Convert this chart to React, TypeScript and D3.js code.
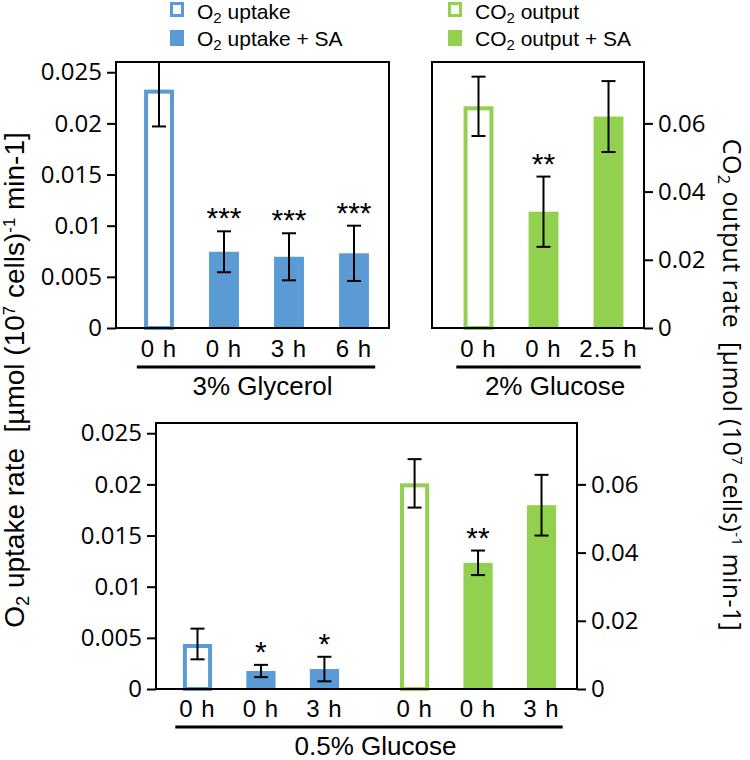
import React, { useRef, useEffect } from "react";
import * as d3 from "d3";

// 3% glycerol, O2 uptake (left axis)
const glycerolTimes = ["0 h", "0 h", "3 h", "6 h"];
const glycerolSA = [false, true, true, true];
const glycerolO2 = [0.0233, 0.00745, 0.00696, 0.0073];
const glycerolO2Err = [0.0036, 0.002, 0.0023, 0.0027];
const glycerolStars = ["", "***", "***", "***"];

// 2% glucose, CO2 output (right axis)
const glucose2Times = ["0 h", "0 h", "2.5 h"];
const glucose2SA = [false, true, true];
const glucose2CO2 = [0.065, 0.0341, 0.062];
const glucose2CO2Err = [0.0087, 0.0103, 0.0104];
const glucose2Stars = ["", "**", ""];

// 0.5% glucose, both
const glucose05Times = ["0 h", "0 h", "3 h"];
const glucose05SA = [false, true, true];
const glucose05O2 = [0.0044, 0.00176, 0.00195];
const glucose05O2Err = [0.0015, 0.0006, 0.0012];
const glucose05O2Stars = ["", "*", "*"];
const glucose05CO2 = [0.0603, 0.037, 0.0539];
const glucose05CO2Err = [0.0071, 0.0036, 0.0089];
const glucose05CO2Stars = ["", "**", ""];

const o2Ticks = [0, 0.005, 0.01, 0.015, 0.02, 0.025];
const co2Ticks = [0, 0.02, 0.04, 0.06];
const o2Max = 0.026;
const co2Max = 0.078;

const BLUE = "#5b9bd5";
const GREEN = "#92d050";
const SANS = "'Liberation Sans', Arial, sans-serif";
const TICKFONT = "'Open Sans', sans-serif";

export default function App() {
  const svgRef = useRef<SVGSVGElement>(null);

  useEffect(() => {
    document.body.style.margin = "0";
    const width = 750;
    const height = 760;
    const svg = d3.select(svgRef.current);
    svg.selectAll("*").remove();
    svg.attr("width", width).attr("height", height).attr("viewBox", [0, 0, width, height]);

    // one set of bars with error bars and stars
    function drawBars(g, cx, bw, y, values, errs, flags, stars, color, clipId) {
      const bars = g.append("g");
      values.forEach((v, i) => {
        const x0 = cx(i) - bw / 2;
        if (flags[i]) {
          bars.append("rect")
            .attr("x", x0).attr("y", y(v))
            .attr("width", bw).attr("height", y(0) - y(v))
            .attr("fill", color);
        } else {
          bars.append("rect")
            .attr("x", x0 + 2).attr("y", y(v) + 2)
            .attr("width", bw - 4).attr("height", y(0) - y(v) - 2)
            .attr("fill", "white").attr("stroke", color).attr("stroke-width", 4);
        }
      });
      const eb = g.append("g").attr("clip-path", `url(#${clipId})`)
        .attr("stroke", "black").attr("stroke-width", 2);
      values.forEach((v, i) => {
        const c = cx(i);
        const lo = y(v - errs[i]);
        const hi = y(v + errs[i]);
        eb.append("line").attr("x1", c).attr("x2", c).attr("y1", lo).attr("y2", hi);
        eb.append("line").attr("x1", c - 7).attr("x2", c + 7).attr("y1", lo).attr("y2", lo);
        eb.append("line").attr("x1", c - 7).attr("x2", c + 7).attr("y1", hi).attr("y2", hi);
      });
      g.append("g")
        .selectAll("text")
        .data(stars)
        .join("text")
        .attr("x", (d, i) => cx(i))
        .attr("y", (d, i) => y(values[i] + errs[i]) - 3)
        .attr("text-anchor", "middle")
        .attr("font-family", SANS)
        .attr("font-size", 30)
        .text(d => d);
    }

    function frame(x0, x1, y0, y1, clipId) {
      svg.append("clipPath").attr("id", clipId)
        .append("rect").attr("x", x0).attr("y", y0).attr("width", x1 - x0).attr("height", y1 - y0);
    }

    function box(x0, x1, y0, y1) {
      svg.append("rect")
        .attr("x", x0).attr("y", y0).attr("width", x1 - x0).attr("height", y1 - y0)
        .attr("fill", "none").attr("stroke", "black").attr("stroke-width", 2);
    }

    function axis(gen, x, ticks) {
      const g = svg.append("g").attr("transform", `translate(${x},0)`)
        .call(gen.tickValues(ticks).tickSize(9).tickPadding(5).tickFormat(d => String(d)));
      g.select(".domain").remove();
      g.selectAll("line").attr("stroke", "black").attr("stroke-width", 2);
      g.selectAll("text").attr("font-family", TICKFONT).attr("font-size", 24).attr("fill", "black");
    }

    function xLabels(cxs, labels, baseline, groupLabel) {
      const g = svg.append("g").attr("font-family", SANS).attr("font-size", 24)
        .attr("text-anchor", "middle").attr("letter-spacing", 1);
      const texts = g.selectAll("text").data(labels).join("text")
        .attr("x", (d, i) => cxs[i]).attr("y", baseline).text(d => d);
      let minX = Infinity, maxX = -Infinity;
      texts.each(function () {
        const b = (this as SVGTextElement).getBBox();
        minX = Math.min(minX, b.x);
        maxX = Math.max(maxX, b.x + b.width);
      });
      svg.append("line")
        .attr("x1", minX - 4).attr("x2", maxX + 3)
        .attr("y1", baseline + 10).attr("y2", baseline + 10)
        .attr("stroke", "black").attr("stroke-width", 3);
      svg.append("text")
        .attr("x", (minX + maxX) / 2 + 6).attr("y", baseline + 38)
        .attr("text-anchor", "middle").attr("font-family", SANS).attr("font-size", 26)
        .text(groupLabel);
    }

    // ---- top-left: 3% glycerol ----
    const yA = d3.scaleLinear().domain([0, o2Max]).range([328, 62]);
    const xA = d3.scaleBand().domain(d3.range(glycerolO2.length)).range([126.5, 386.5])
      .paddingInner(0.54).paddingOuter(0.27);
    const cxA = i => xA(i) + xA.bandwidth() / 2;
    frame(116, 389, 62, 328, "clipA");
    drawBars(svg.append("g"), cxA, xA.bandwidth(), yA, glycerolO2, glycerolO2Err, glycerolSA,
      glycerolStars, BLUE, "clipA");
    box(116, 389, 62, 328);
    axis(d3.axisLeft(yA), 116, o2Ticks);
    xLabels(glycerolTimes.map((d, i) => cxA(i)), glycerolTimes, 357, "3% Glycerol");

    // ---- top-right: 2% glucose ----
    const yB = d3.scaleLinear().domain([0, co2Max]).range([328, 62]);
    const xB = d3.scaleBand().domain(d3.range(glucose2CO2.length)).range([446, 641])
      .paddingInner(0.54).paddingOuter(0.27);
    const cxB = i => xB(i) + xB.bandwidth() / 2;
    frame(432, 644, 62, 328, "clipB");
    drawBars(svg.append("g"), cxB, xB.bandwidth(), yB, glucose2CO2, glucose2CO2Err, glucose2SA,
      glucose2Stars, GREEN, "clipB");
    box(432, 644, 62, 328);
    axis(d3.axisRight(yB), 644, co2Ticks);
    xLabels(glucose2Times.map((d, i) => cxB(i)), glucose2Times, 357, "2% Glucose");

    // ---- bottom: 0.5% glucose ----
    const yC1 = d3.scaleLinear().domain([0, o2Max]).range([689, 423]);
    const yC2 = d3.scaleLinear().domain([0, co2Max]).range([689, 423]);
    const xGroup = d3.scaleBand().domain(["O2", "CO2"]).range([165.75, 573.25]).paddingInner(0.123);
    const xInner = d3.scaleBand().domain(d3.range(glucose05Times.length)).range([0, xGroup.bandwidth()])
      .paddingInner(0.54).paddingOuter(0.27);
    const cxC1 = i => xGroup("O2") + xInner(i) + xInner.bandwidth() / 2;
    const cxC2 = i => xGroup("CO2") + xInner(i) + xInner.bandwidth() / 2;
    frame(156, 577, 423, 689, "clipC");
    drawBars(svg.append("g"), cxC1, xInner.bandwidth(), yC1, glucose05O2, glucose05O2Err, glucose05SA,
      glucose05O2Stars, BLUE, "clipC");
    drawBars(svg.append("g"), cxC2, xInner.bandwidth(), yC2, glucose05CO2, glucose05CO2Err, glucose05SA,
      glucose05CO2Stars, GREEN, "clipC");
    box(156, 577, 423, 689);
    axis(d3.axisLeft(yC1), 156, o2Ticks);
    axis(d3.axisRight(yC2), 577, co2Ticks);
    const allC = [...glucose05Times.map((d, i) => cxC1(i)), ...glucose05Times.map((d, i) => cxC2(i))];
    xLabels(allC, [...glucose05Times, ...glucose05Times], 717, "0.5% Glucose");

    // ---- legends ----
    function legendItem(x, yBase, color, open, main, rest) {
      if (open) {
        svg.append("rect").attr("x", x + 1.5).attr("y", yBase - 15.5).attr("width", 11).attr("height", 12)
          .attr("fill", "white").attr("stroke", color).attr("stroke-width", 3);
      } else {
        svg.append("rect").attr("x", x).attr("y", yBase - 16).attr("width", 14).attr("height", 16)
          .attr("fill", color);
      }
      const t = svg.append("text").attr("x", x + 27).attr("y", yBase)
        .attr("font-family", SANS).attr("font-size", 21).style("white-space", "pre");
      t.append("tspan").text(main);
      t.append("tspan").attr("font-size", 15).attr("dy", 4).text("2");
      t.append("tspan").attr("dy", -4).text(rest);
    }
    legendItem(170, 19, BLUE, true, "O", " uptake");
    legendItem(170, 46, BLUE, false, "O", " uptake + SA");
    legendItem(448, 19, GREEN, true, "CO", " output");
    legendItem(448, 46, GREEN, false, "CO", " output + SA");

    // ---- axis titles ----
    function title(transform, family, size, spacing, main, rest) {
      const t = svg.append("text").attr("transform", transform)
        .attr("text-anchor", "middle").attr("font-family", family).attr("font-size", size)
        .attr("letter-spacing", spacing).style("white-space", "pre");
      t.append("tspan").text(main);
      t.append("tspan").attr("font-size", size * 0.65).attr("dy", 5).text("2");
      t.append("tspan").attr("dy", -5).text(rest + "  [µmol (10");
      t.append("tspan").attr("font-size", size * 0.6).attr("dy", -9).text("7");
      t.append("tspan").attr("dy", 9).text(" cells)");
      t.append("tspan").attr("font-size", size * 0.6).attr("dy", -9).text("-1");
      t.append("tspan").attr("dy", 9).text(" min-1]");
    }
    title("translate(24,380) rotate(-90)", SANS, 28, 0, "O", " uptake rate");
    title("translate(723,385) rotate(90)", TICKFONT, 25, 0.4, "CO", " output rate");
  }, []);

  return (
    <div style={{ width: 750, height: 760 }}>
      <svg ref={svgRef} style={{ display: "block" }}></svg>
    </div>
  );
}
